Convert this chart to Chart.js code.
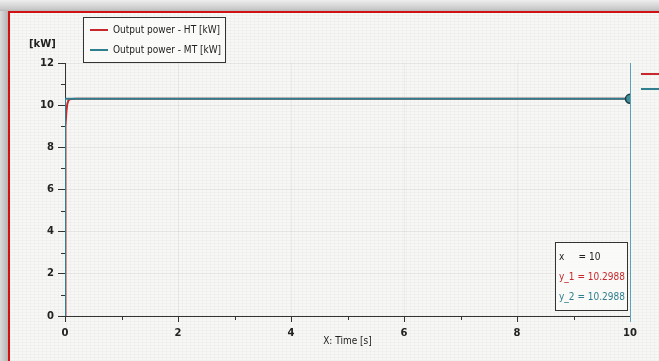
<!DOCTYPE html>
<html>
<head>
<meta charset="utf-8">
<script src="https://cdn.jsdelivr.net/npm/chart.js@4/dist/chart.umd.min.js"></script>
<style>
  html, body { margin: 0; padding: 0; }
  body {
    width: 659px; height: 361px; overflow: hidden; position: relative;
    background: linear-gradient(180deg, #eeeeee 0px, #c9c9c9 9px, #b8b8b8 11px);
    font-family: "DejaVu Sans Condensed", "Liberation Sans Narrow", "Noto Sans", sans-serif;
  }
  #sheet {
    position: absolute; left: 8px; top: 11px; right: 0; bottom: 0;
    border-left: 2px solid #d01212; border-top: 2px solid #d01212;
    background-color: #f7f7f5;
    background-image:
      repeating-linear-gradient(0deg, rgba(0,0,0,0.022) 0 1px, transparent 1px 3px),
      repeating-linear-gradient(90deg, rgba(0,0,0,0.022) 0 1px, transparent 1px 4px);
  }
  #leftshade { position: absolute; left: 0; top: 11px; width: 8px; bottom: 0;
    background: linear-gradient(90deg, #dcdcdc, #b5b5b5); }
  #wrap { position: absolute; left: 0; top: 0; width: 659px; height: 361px; }
  .box { position: absolute; border: 1px solid #333; background: rgba(250,250,248,0.85); }
  .legend { left: 83px; top: 17px; width: 141px; height: 44px; font-size: 10px; color: #222; }
  .legend .row { position: absolute; left: 6px; height: 14px; line-height: 14px; white-space: nowrap; }
  .legend .sw { display: inline-block; width: 18px; height: 2px; vertical-align: middle; margin-right: 5px; }
  .unit { position: absolute; left: 29px; top: 38px; font: bold 10px "DejaVu Sans", sans-serif; color: #222; }
  .tip { left: 555px; top: 242px; width: 71px; height: 67px; font-size: 10px; }
  .tip div { position: absolute; left: 3px; white-space: pre; }
  .side { position: absolute; left: 641px; width: 20px; height: 2px; }
</style>
</head>
<body>
<div id="leftshade"></div>
<div id="sheet"></div>
<div id="wrap"><canvas id="c" width="659" height="361"></canvas></div>
<div class="unit">[kW]</div>
<div class="box legend" id="legend"></div>
<div class="box tip" id="tip"></div>
<script>
// Simulation output: power of the two modules over time
const seriesNames = ['Output power - HT [kW]', 'Output power - MT [kW]'];
const seriesColors = ['#c8282b', '#2f7f8e'];

const timeHT  = [0, 0.002, 0.005, 0.01, 0.015, 0.025, 0.04, 0.06, 0.08, 0.12, 0.2, 10];
const powerHT = [0, 3.5, 6.5, 8.2, 9.0, 9.7, 10.05, 10.22, 10.28, 10.297, 10.2988, 10.2988];

const timeMT  = [0, 0, 10];
const powerMT = [0, 10.2988, 10.2988];

// Data cursor position
const cursorX = 10;

// Axis tick values
const xTicks = [0, 2, 4, 6, 8, 10];
const yTicks = [0, 2, 4, 6, 8, 10, 12];

const toPoints = (xs, ys) => xs.map((x, i) => ({ x, y: ys[i] }));
const valueAt = (xs, ys, x) => ys[xs.lastIndexOf(x)];
const cursorY1 = valueAt(timeHT, powerHT, cursorX);
const cursorY2 = valueAt(timeMT, powerMT, cursorX);

// Legend and datatip text
const legend = document.getElementById('legend');
seriesNames.forEach((name, i) => {
  const row = document.createElement('div');
  row.className = 'row';
  row.style.top = (5 + i * 20) + 'px';
  row.innerHTML = '<span class="sw" style="background:' + seriesColors[i] + '"></span>' + name;
  legend.appendChild(row);
});
[73, 88].forEach((top, i) => {
  const s = document.createElement('div');
  s.className = 'side';
  s.style.top = top + 'px';
  s.style.background = seriesColors[i];
  document.body.appendChild(s);
});
const tip = document.getElementById('tip');
[['x     = ' + cursorX, '#222'],
 ['y_1 = ' + cursorY1.toFixed(4), seriesColors[0]],
 ['y_2 = ' + cursorY2.toFixed(4), seriesColors[1]]].forEach((t, i) => {
  const d = document.createElement('div');
  d.textContent = t[0];
  d.style.color = t[1];
  d.style.top = (8 + i * 20) + 'px';
  tip.appendChild(d);
});

// Minor ticks between labelled ticks and the cursor line
const extras = {
  id: 'extras',
  beforeDatasetsDraw(chart) {
    const { ctx, chartArea: a, scales: { x, y } } = chart;
    ctx.save();
    ctx.strokeStyle = '#333';
    ctx.lineWidth = 1;
    for (let v = 1; v < 12; v += 2) {
      const py = Math.round(y.getPixelForValue(v)) + 0.5;
      ctx.beginPath(); ctx.moveTo(a.left - 4, py); ctx.lineTo(a.left, py); ctx.stroke();
    }
    for (let v = 1; v < 10; v += 2) {
      const px = Math.round(x.getPixelForValue(v)) + 0.5;
      ctx.beginPath(); ctx.moveTo(px, a.bottom); ctx.lineTo(px, a.bottom + 4); ctx.stroke();
    }
    const cx = Math.round(x.getPixelForValue(cursorX)) + 0.5;
    ctx.strokeStyle = '#5aa3b2';
    ctx.beginPath(); ctx.moveTo(cx, a.top); ctx.lineTo(cx, a.bottom + 6); ctx.stroke();
    ctx.restore();
  }
};

const tickFont = { family: 'DejaVu Sans', size: 10, weight: 'bold' };

new Chart(document.getElementById('c'), {
  type: 'line',
  data: {
    datasets: [
      { label: seriesNames[0], data: toPoints(timeHT, powerHT), borderColor: seriesColors[0],
        borderWidth: 2, pointRadius: 0, tension: 0, order: 3 },
      { label: seriesNames[1], data: toPoints(timeMT, powerMT), borderColor: seriesColors[1],
        borderWidth: 2, pointRadius: 0, tension: 0, order: 2 },
      { label: 'cursor', data: [{ x: cursorX, y: cursorY2 }], showLine: false,
        pointRadius: 4.5, pointBackgroundColor: '#3f8e99', pointBorderColor: '#1d3c42',
        pointBorderWidth: 1.5, order: 1 }
    ]
  },
  plugins: [extras],
  options: {
    responsive: false,
    animation: false,
    layout: { padding: { left: 0, top: 63, right: 29, bottom: 0 } },
    plugins: { legend: { display: false }, tooltip: { enabled: false } },
    scales: {
      x: {
        type: 'linear', min: 0, max: 10,
        afterFit(s) { s.height = 45; },
        afterBuildTicks(s) { s.ticks = xTicks.map(v => ({ value: v })); },
        border: { color: '#333', width: 1 },
        grid: { color: 'rgba(0,0,0,0.045)', tickColor: '#333', tickLength: 6, drawOnChartArea: true },
        ticks: { font: tickFont, color: '#222', padding: 5, maxRotation: 0 },
        title: { display: true, text: 'X: Time [s]', color: '#222',
                 font: { family: 'DejaVu Sans Condensed', size: 10 }, padding: { top: 0, bottom: 14 } }
      },
      y: {
        type: 'linear', min: 0, max: 12,
        afterFit(s) { s.width = 65; },
        afterBuildTicks(s) { s.ticks = yTicks.map(v => ({ value: v })); },
        border: { color: '#333', width: 1 },
        grid: { color: 'rgba(0,0,0,0.045)', tickColor: '#333', tickLength: 7 },
        ticks: { font: tickFont, color: '#222', padding: 4 }
      }
    }
  }
});
</script>
</body>
</html>
